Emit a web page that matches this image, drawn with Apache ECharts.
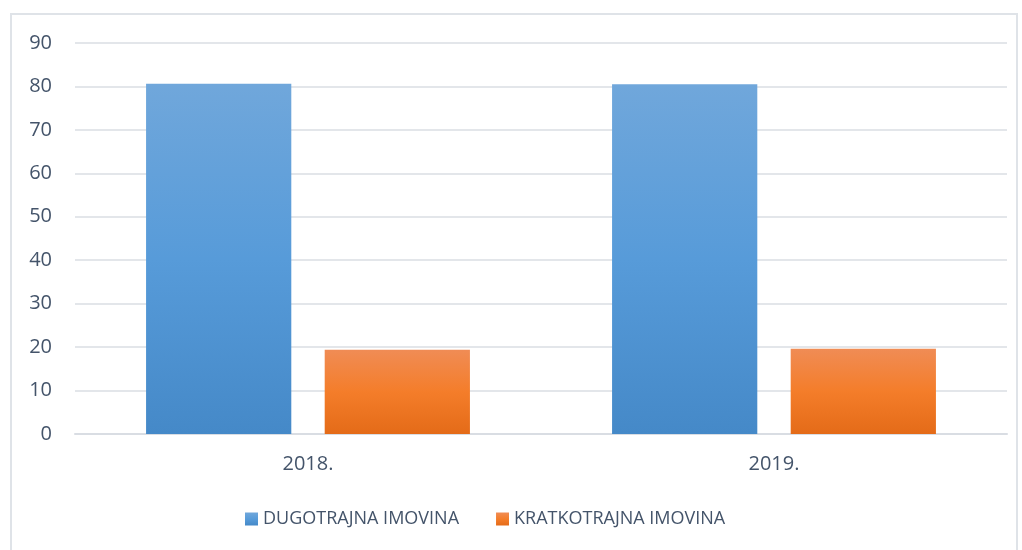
<!DOCTYPE html>
<html>
<head>
<meta charset="utf-8">
<script src="https://cdn.jsdelivr.net/npm/echarts@6/dist/echarts.min.js"></script>
<style>
  html, body { margin: 0; padding: 0; background: #fff; }
  #frame { position: absolute; left: 10px; top: 13px; width: 1008px; height: 540px; border: 2px solid #dfe3e8; box-sizing: border-box; }
  #chart { width: 1022px; height: 550px; }
</style>
</head>
<body>
<div id="frame"></div>
<div id="chart"></div>
<script>
const years = ['2018.', '2019.'];
const dugotrajna = [80.6, 80.5];
const kratkotrajna = [19.4, 19.6];
const seriesNames = ['DUGOTRAJNA IMOVINA', 'KRATKOTRAJNA IMOVINA'];

const TXT = '#44546a';
const grad = (top, mid, bottom) =>
  new echarts.graphic.LinearGradient(0, 0, 0, 1, [
    { offset: 0, color: top },
    { offset: 0.5, color: mid },
    { offset: 1, color: bottom },
  ]);

const blue = grad('#70a7db', '#579bd9', '#4589c8');
const orange = grad('#f08c55', '#f47d2a', '#e46b18');

const chart = echarts.init(document.getElementById('chart'));
chart.setOption({
  animation: false,
  textStyle: { fontFamily: 'Open Sans, Noto Sans, sans-serif' },
  grid: { left: 75, right: 15, top: 43, bottom: 116 },
  legend: {
    bottom: 17,
    left: 240,
    itemWidth: 13,
    itemHeight: 13,
    itemGap: 37,
    icon: 'rect',
    textStyle: { color: TXT, fontSize: 18 },
    data: seriesNames,
  },
  xAxis: {
    type: 'category',
    data: years,
    axisLine: { lineStyle: { color: '#d9dde3', width: 2 } },
    axisTick: { show: false },
    axisLabel: { color: TXT, fontSize: 20, margin: 20 },
  },
  yAxis: {
    type: 'value',
    min: 0,
    max: 90,
    interval: 10,
    axisLine: { show: false },
    axisTick: { show: false },
    axisLabel: { color: TXT, fontSize: 20, margin: 23 },
    splitLine: { lineStyle: { color: '#e3e6ea', width: 2 } },
  },
  series: [
    {
      name: seriesNames[0],
      type: 'bar',
      data: dugotrajna,
      itemStyle: { color: blue },
      barGap: '23%',
      barCategoryGap: '30.5%',
    },
    {
      name: seriesNames[1],
      type: 'bar',
      data: kratkotrajna,
      itemStyle: { color: orange },
    },
  ],
});
</script>
</body>
</html>
